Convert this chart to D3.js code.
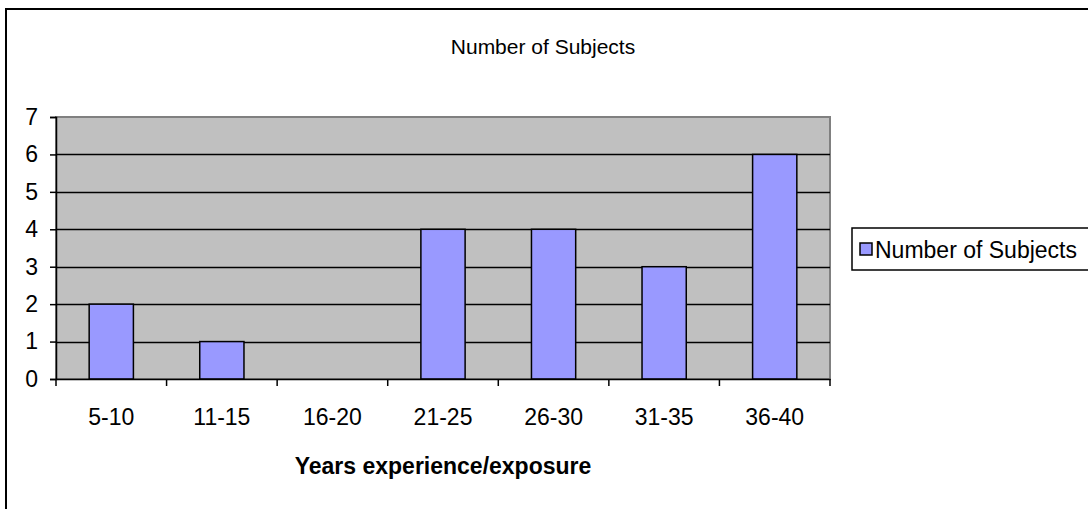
<!DOCTYPE html>
<html><head><meta charset="utf-8">
<script src="https://cdn.jsdelivr.net/npm/d3@7"></script>
<style>body{margin:0;background:#fff}svg{display:block}text{font-family:"Liberation Sans",Arial,sans-serif}</style>
</head><body>
<svg id="c" width="1088" height="509"></svg>
<script>
const categories = ["5-10","11-15","16-20","21-25","26-30","31-35","36-40"];
const values = [2,1,0,4,4,3,6];
const yTicks = [0,1,2,3,4,5,6,7];
const seriesName = "Number of Subjects";
const chartTitle = "Number of Subjects";
const xTitle = "Years experience/exposure";

const FS = 23;
const svg = d3.select("#c");
svg.append("rect").attr("x",6).attr("y",9).attr("width",1100).attr("height",520)
  .attr("fill","#fff").attr("stroke","#000").attr("stroke-width",2);

const L=56,R=830,T=117,B=379;
const x = d3.scaleBand().domain(categories).range([L,R]).paddingInner(0).paddingOuter(0);
const y = d3.scaleLinear().domain([0,7]).range([B,T]);

svg.append("rect").attr("x",L).attr("y",T).attr("width",R-L).attr("height",B-T)
  .attr("fill","#c0c0c0").attr("stroke","#808080").attr("stroke-width",2);

svg.append("g").selectAll("line").data(yTicks.filter(d=>d>0&&d<7)).join("line")
  .attr("x1",L).attr("x2",R).attr("y1",d=>Math.round(y(d))+0.5).attr("y2",d=>Math.round(y(d))+0.5)
  .attr("stroke","#000").attr("stroke-width",1.5);

const bw = x.bandwidth()/2.5;
svg.append("g").selectAll("rect").data(values).join("rect")
  .attr("x",(d,i)=>x(categories[i])+(x.bandwidth()-bw)/2)
  .attr("y",d=>y(d)).attr("width",bw).attr("height",d=>B-y(d))
  .attr("fill","#9999ff").attr("stroke","#000").attr("stroke-width",1.5);

const ya = svg.append("g").attr("transform",`translate(${L},0)`)
  .call(d3.axisLeft(y).tickValues(yTicks).tickSize(6).tickPadding(12).tickFormat(d3.format("d")));
ya.select(".domain").attr("stroke","#000").attr("stroke-width",1.5);
ya.selectAll("line").attr("stroke","#000").attr("stroke-width",1.5);
ya.selectAll("text").attr("font-size",FS).attr("fill","#000").style("font-family","Liberation Sans, Arial");

const xa = svg.append("g").attr("transform",`translate(0,${B})`)
  .call(d3.axisBottom(x).tickSize(0).tickPadding(30));
xa.select(".domain").attr("stroke","#000").attr("stroke-width",1.5);
xa.selectAll("text").attr("font-size",FS).attr("fill","#000").style("font-family","Liberation Sans, Arial");
const bounds = categories.map(c=>x(c)).concat([R]);
svg.append("g").selectAll("line").data(bounds).join("line")
  .attr("x1",d=>d).attr("x2",d=>d).attr("y1",B).attr("y2",B+7).attr("stroke","#000").attr("stroke-width",1.5);

svg.append("text").attr("x",543).attr("y",54).attr("text-anchor","middle").attr("font-size",21).text(chartTitle);
svg.append("text").attr("x",(L+R)/2).attr("y",474).attr("text-anchor","middle").attr("font-size",FS).attr("font-weight","bold").text(xTitle);

const lg = svg.append("g");
lg.append("rect").attr("x",852).attr("y",228).attr("width",240).attr("height",42).attr("fill","#fff").attr("stroke","#000").attr("stroke-width",1.5);
lg.append("rect").attr("x",860).attr("y",243).attr("width",12).attr("height",12).attr("fill","#9999ff").attr("stroke","#000").attr("stroke-width",1.5);
lg.append("text").attr("x",875).attr("y",258).attr("font-size",FS).text(seriesName);
</script>
</body></html>
